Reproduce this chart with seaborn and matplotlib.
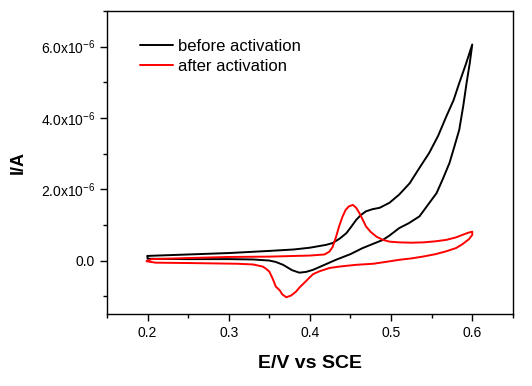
import numpy as np
import matplotlib
matplotlib.use("Agg")
import matplotlib.pyplot as plt
from matplotlib.ticker import FuncFormatter, MultipleLocator
import pandas as pd
import seaborn as sns

# cyclic voltammograms, potential in V vs SCE, current in 1e-6 A
before_E = [0.20, 0.25, 0.30, 0.35, 0.38, 0.40, 0.42, 0.428, 0.437, 0.445, 0.451, 0.457,
            0.463, 0.469, 0.477, 0.486, 0.498, 0.510, 0.523, 0.535, 0.547, 0.558, 0.568,
            0.577, 0.584, 0.592, 0.600,
            0.597, 0.593, 0.589, 0.584, 0.578, 0.572, 0.564, 0.556, 0.545, 0.535, 0.522,
            0.510, 0.498, 0.490, 0.478, 0.465, 0.450, 0.432, 0.418, 0.404, 0.395, 0.387,
            0.378, 0.367, 0.358, 0.350, 0.330, 0.300, 0.250, 0.200, 0.200]
before_I = [0.13, 0.17, 0.21, 0.27, 0.31, 0.36, 0.44, 0.49, 0.62, 0.77, 0.95, 1.14,
            1.28, 1.38, 1.44, 1.48, 1.62, 1.85, 2.17, 2.60, 3.02, 3.50, 4.04,
            4.50, 4.98, 5.50, 6.06,
            5.55, 4.98, 4.35, 3.67, 3.20, 2.74, 2.30, 1.89, 1.55, 1.24, 1.05,
            0.91, 0.70, 0.58, 0.47, 0.35, 0.18, 0.02, -0.12, -0.26, -0.32, -0.34,
            -0.27, -0.12, -0.04, 0.00, 0.03, 0.04, 0.04, 0.05, 0.13]

after_E = [0.199, 0.205, 0.25, 0.30, 0.35, 0.40, 0.418, 0.424, 0.428, 0.432, 0.436, 0.440,
           0.444, 0.448, 0.453, 0.457, 0.461, 0.465, 0.469, 0.475, 0.482, 0.490, 0.498,
           0.510, 0.525, 0.540, 0.555, 0.568, 0.580, 0.588, 0.595, 0.600,
           0.600, 0.596, 0.588, 0.580, 0.568, 0.555, 0.539, 0.525, 0.510, 0.490, 0.478,
           0.457, 0.436, 0.424, 0.412, 0.404, 0.399, 0.392, 0.387, 0.383, 0.377, 0.371,
           0.366, 0.363, 0.358, 0.354, 0.350, 0.346, 0.342, 0.330, 0.310, 0.250, 0.210, 0.199]
after_I = [-0.02, 0.04, 0.07, 0.10, 0.11, 0.14, 0.17, 0.25, 0.38, 0.65, 0.96, 1.22,
           1.42, 1.52, 1.56, 1.48, 1.33, 1.15, 0.96, 0.80, 0.67, 0.58, 0.53,
           0.51, 0.50, 0.51, 0.54, 0.58, 0.65, 0.72, 0.78, 0.81,
           0.72, 0.60, 0.46, 0.35, 0.26, 0.18, 0.11, 0.06, 0.02, -0.05, -0.09,
           -0.12, -0.17, -0.21, -0.30, -0.38, -0.49, -0.65, -0.76, -0.87, -0.98, -1.03,
           -0.95, -0.84, -0.73, -0.50, -0.31, -0.23, -0.17, -0.11, -0.09, -0.07, -0.06, -0.02]

labels = ["before activation", "after activation"]
colors = ["black", "#ff0000"]

df = pd.concat([
    pd.DataFrame({"E": before_E, "I": np.array(before_I) * 1e-6, "scan": labels[0]}),
    pd.DataFrame({"E": after_E, "I": np.array(after_I) * 1e-6, "scan": labels[1]}),
])

sns.set_style("ticks")
plt.rcParams['font.family'] = ['Liberation Sans', 'DejaVu Sans']
plt.rcParams['mathtext.fontset'] = 'custom'
plt.rcParams['mathtext.rm'] = 'Liberation Sans'
plt.rcParams['mathtext.it'] = 'Liberation Sans:italic'
plt.rcParams['mathtext.bf'] = 'Liberation Sans:bold'
plt.rcParams['text.color'] = 'black'
plt.rcParams['axes.labelcolor'] = 'black'
plt.rcParams['xtick.color'] = 'black'
plt.rcParams['ytick.color'] = 'black'

fig = plt.figure(figsize=(5.32, 3.86), dpi=100)
ax = fig.add_axes([0.201, 0.1865, 0.763, 0.785])

sns.lineplot(data=df, x="E", y="I", hue="scan", palette=colors, hue_order=labels,
             sort=False, estimator=None, lw=1.4, ax=ax)

ax.set_xlim(0.15, 0.65)
ax.set_ylim(-1.5e-6, 7.0e-6)
ax.xaxis.set_major_locator(MultipleLocator(0.1))
ax.xaxis.set_minor_locator(MultipleLocator(0.05))
ax.yaxis.set_major_locator(MultipleLocator(2e-6))
ax.yaxis.set_minor_locator(MultipleLocator(1e-6))


def yfmt(v, pos):
    if abs(v) < 1e-12:
        return "0.0"
    return "%.1fx10$^{-6}$" % (v * 1e6)


ax.yaxis.set_major_formatter(FuncFormatter(yfmt))
ax.xaxis.set_major_formatter(FuncFormatter(lambda v, p: "%.1f" % v))
ax.tick_params(which="major", direction="out", length=5, width=1, labelsize=10)
ax.tick_params(which="minor", direction="out", length=3, width=1)
for s in ax.spines.values():
    s.set_linewidth(1)
    s.set_color("black")

ax.set_xlabel("E/V vs SCE", fontsize=14, fontweight="bold", labelpad=11)
ax.set_ylabel("I/A", fontsize=13, fontweight="bold", labelpad=10)

ax.legend(loc="upper left", frameon=False, fontsize=12, handlelength=2.0,
          handletextpad=0.3, labelspacing=0.32, borderaxespad=0,
          bbox_to_anchor=(0.065, 0.93))

fig.savefig("out.png", dpi=100)
